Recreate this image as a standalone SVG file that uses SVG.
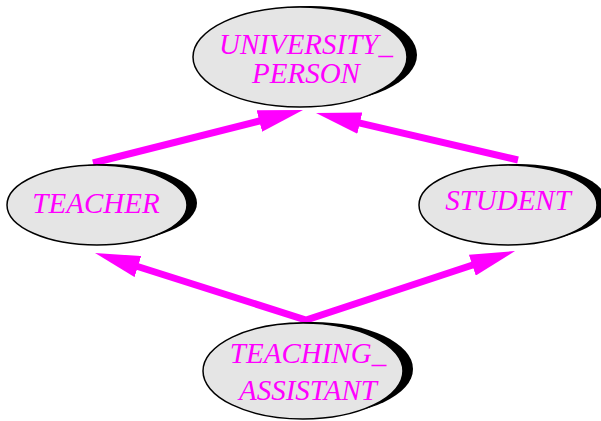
<svg xmlns="http://www.w3.org/2000/svg" width="601" height="421" viewBox="0 0 601 421">
<style>
.bg{fill:#ffffff}
.shadow{fill:#000000;stroke:none}
.body{fill:#e5e5e5;stroke:#000000;stroke-width:1.5}
.lbl{font-family:"Liberation Serif","Times New Roman",serif;font-style:italic;font-size:29px;fill:#ff00ff;text-anchor:middle}
.edge{fill:none;stroke:#ff00ff;stroke-width:7;stroke-linejoin:miter;stroke-miterlimit:10}
</style>
<defs>
<marker id="ah" viewBox="0 0 45 22" refX="2" refY="11" markerWidth="45" markerHeight="22" markerUnits="userSpaceOnUse" orient="auto-start-reverse">
<path d="M0,0 L45,11 L0,22 z" fill="#ff00ff"/>
</marker>
</defs>
<rect class="bg" x="0" y="0" width="601" height="421"/>
<g id="connectors">
<path class="edge" d="M93,163 L261.3,120.5" marker-end="url(#ah)"/>
<path class="edge" d="M518,160 L357.9,122.7" marker-end="url(#ah)"/>
<path class="edge" d="M136,266 L306,320 L474.2,264.5" marker-start="url(#ah)" marker-end="url(#ah)"/>
</g>
<g id="university_person">
<ellipse class="shadow" cx="310" cy="55" rx="107" ry="49"/>
<ellipse class="body" cx="300" cy="57" rx="107" ry="50"/>
<text class="lbl" x="306" y="54">UNIVERSITY_</text>
<text class="lbl" x="306" y="83">PERSON</text>
</g>
<g id="teacher">
<ellipse class="shadow" cx="107" cy="203" rx="90" ry="39"/>
<ellipse class="body" cx="97" cy="205" rx="90" ry="40"/>
<text class="lbl" x="96" y="213">TEACHER</text>
</g>
<g id="student">
<ellipse class="shadow" cx="518" cy="203" rx="89" ry="39"/>
<ellipse class="body" cx="508" cy="205" rx="89" ry="40"/>
<text class="lbl" x="508" y="210">STUDENT</text>
</g>
<g id="teaching_assistant">
<ellipse class="shadow" cx="313" cy="369" rx="100" ry="47"/>
<ellipse class="body" cx="303" cy="371" rx="100" ry="48"/>
<text class="lbl" x="308" y="363">TEACHING_</text>
<text class="lbl" x="308" y="400">ASSISTANT</text>
</g>
</svg>
